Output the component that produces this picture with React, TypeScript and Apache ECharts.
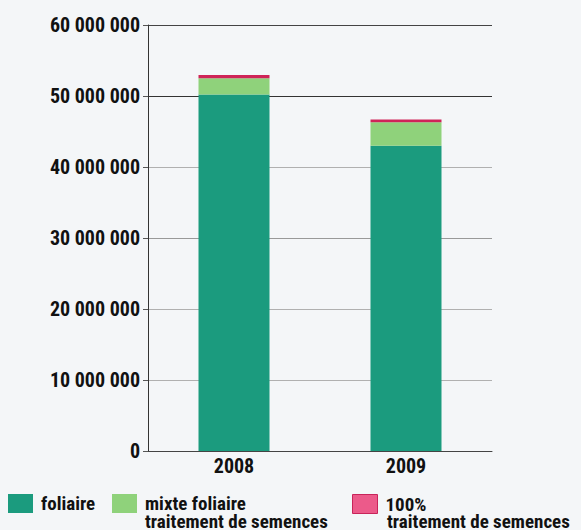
import React, { useEffect, useRef } from "react";
import * as echarts from "echarts";

const categories = ["2008", "2009"];
const foliaire = [50200000, 43000000];
const mixte = [2300000, 3300000];
const semences = [450000, 400000];
const seriesNames = ["foliaire", "mixte foliaire", "100%"];
const secondLines = ["traitement de semences", "traitement de semences"];
const yTicks = [0, 10000000, 20000000, 30000000, 40000000, 50000000, 60000000];

const FONT = "'Roboto Condensed', 'Open Sans', sans-serif";
const C_DARK = "#1b9b7e";
const C_LIGHT = "#8fd27b";
const C_PINK = "#cf2458";

function fmt(v: number): string {
  return String(v).replace(/\B(?=(\d{3})+(?!\d))/g, " ");
}

export default function App() {
  const ref = useRef<HTMLDivElement>(null);
  useEffect(() => {
    if (!ref.current) return;
    const chart = echarts.init(ref.current, undefined, { renderer: "svg" });
    const legendText = { fontFamily: FONT, fontWeight: "bold", fontSize: 19, lineHeight: 18, color: "#111", padding: [0, 0, 0, 3] };
    const legendBase = { top: 494, padding: 0, itemWidth: 25, itemHeight: 19, icon: "rect", textStyle: legendText };
    chart.setOption({
      animation: false,
      backgroundColor: "#f4f6f8",
      grid: { left: 148, right: 89, top: 25, bottom: 79 },
      xAxis: {
        type: "category",
        data: categories,
        axisLine: { show: true, lineStyle: { color: "#444", width: 1 } },
        axisTick: { show: false },
        axisLabel: { fontFamily: FONT, fontWeight: "bold", fontSize: 20, color: "#111", margin: 5 },
      },
      yAxis: {
        type: "value",
        min: 0,
        max: 60000000,
        interval: 10000000,
        axisLine: { show: true, lineStyle: { color: "#333", width: 1 } },
        axisTick: { show: true, length: 5, lineStyle: { color: "#555" } },
        axisLabel: {
          fontFamily: FONT,
          fontWeight: "bold",
          fontSize: 20,
          color: "#111",
          margin: 8,
          formatter: (v: number) => (yTicks.includes(v) ? fmt(v) : ""),
        },
        splitLine: {
          show: true,
          lineStyle: { color: ["#444", "#b0b0b0", "#b0b0b0", "#999", "#b0b0b0", "#333", "#444"], width: 1 },
        },
      },
      legend: [
        { ...legendBase, data: [seriesNames[0]], left: 8 },
        { ...legendBase, data: [seriesNames[1]], left: 112 },
        {
          ...legendBase,
          data: [{ name: seriesNames[2], itemStyle: { color: "#ec5a8a", borderColor: "#c8245a", borderWidth: 1 } }],
          left: 352,
        },
      ],
      graphic: [
        {
          type: "text",
          x: 145,
          y: 521,
          style: { text: secondLines[0], font: `bold 19px ${FONT}`, lineHeight: 18, fill: "#111", verticalAlign: "middle" },
        },
        {
          type: "text",
          x: 387,
          y: 521,
          style: { text: secondLines[1], font: `bold 19px ${FONT}`, lineHeight: 18, fill: "#111", verticalAlign: "middle" },
        },
      ],
      series: [
        { name: seriesNames[0], type: "bar", stack: "t", data: foliaire, barWidth: 71, itemStyle: { color: C_DARK } },
        { name: seriesNames[1], type: "bar", stack: "t", data: mixte, itemStyle: { color: C_LIGHT } },
        { name: seriesNames[2], type: "bar", stack: "t", data: semences, itemStyle: { color: C_PINK } },
      ],
    });
    return () => chart.dispose();
  }, []);
  return <div ref={ref} style={{ width: 581, height: 530, position: "absolute", left: 0, top: 0 }} />;
}
